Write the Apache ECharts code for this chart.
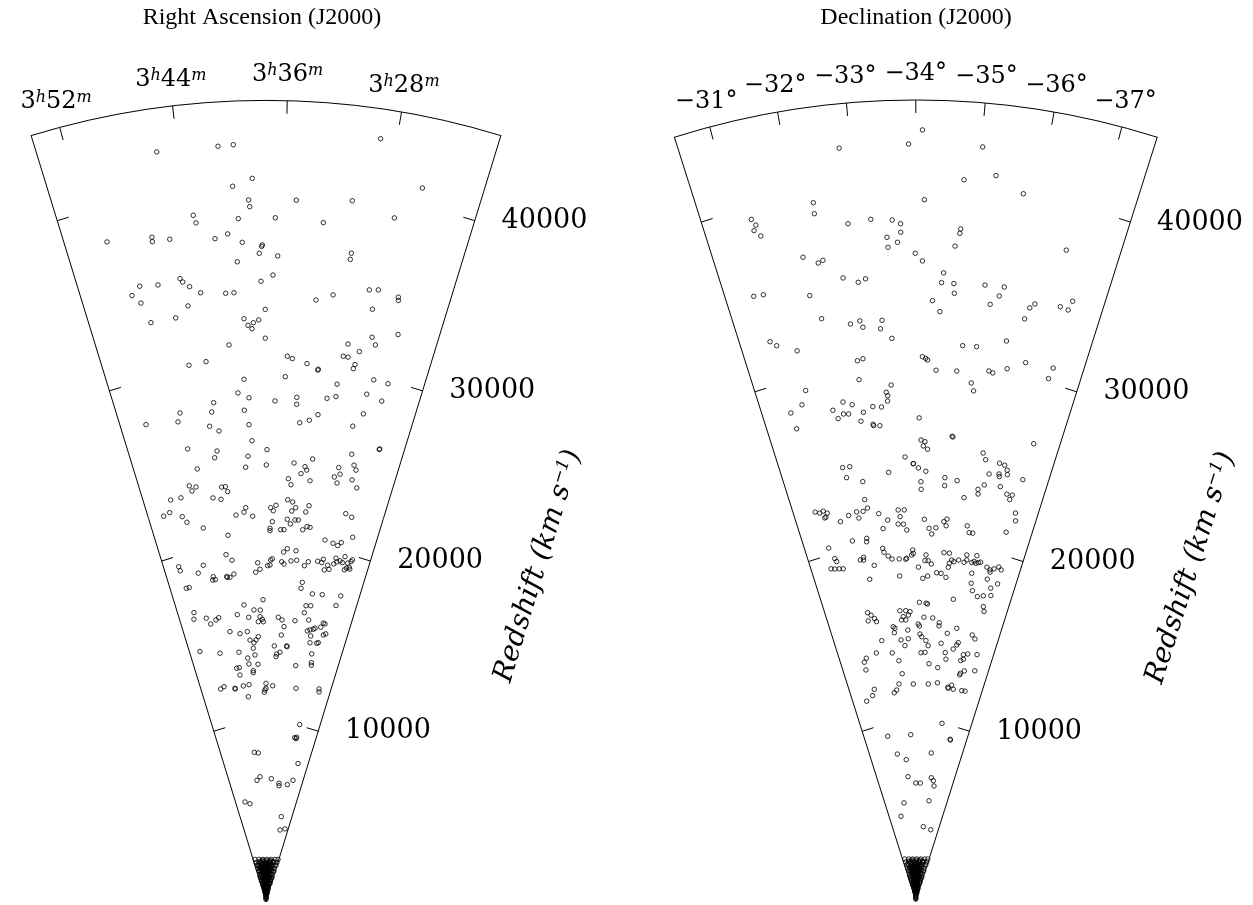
<!DOCTYPE html>
<html>
<head>
<meta charset="utf-8">
<script src="https://cdn.jsdelivr.net/npm/echarts@6/dist/echarts.min.js"></script>
<style>html,body{margin:0;padding:0;background:#fff}#chart{width:1253px;height:905px}</style>
</head>
<body>
<div id="chart"></div>
<script>
// ---------- values ----------
const redshiftMax = 45000;                       // km/s at the outer arc
const redshiftTicks = [10000, 20000, 30000, 40000];
const raRange = [20.89, 54.07];                  // RA, minutes after 3h (right edge .. left edge)
const raTicks = [28, 36, 44, 52];                // 3h28m .. 3h52m
const decRange = [-37.53, -30.47];               // Dec, degrees (right edge .. left edge)
const decTicks = [-37, -36, -35, -34, -33, -32, -31];

// [redshift (km/s), RA minutes after 3h]
const raPoints = [
[42550,45.55],[42510,41.02],[42550,39.89],[40630,38.54],[40220,40.08],[39420,38.86],[39040,38.79],[38760,43.37],[38320,43.21],[38390,39.74],[38110,50.67],[37860,46.96],[37610,46.99],[37590,45.53],[37340,41.76],[37560,40.68],[37050,39.49],[36880,37.79],[36800,37.85],[36410,38.06],[35970,39.98],[34840,37.93],[35320,45.13],[35110,44.93],[34800,44.37],[35280,48.77],[35160,47.15],[34860,49.62],[34340,48.97],[34390,43.44],[34240,41.17],[34240,40.41],[33740,44.74],[33170,46.04],[33150,48.42],[33260,37.55],[32760,39.59],[32380,39.22],[32520,38.70],[32670,38.18],[32180,38.84],[31640,37.55],
[43330,29.16],[41030,25.45],[39430,35.07],[39660,30.65],[38410,36.72],[38270,32.78],[39070,27.13],[36270,36.47],[36730,30.18],[36380,30.20],[35190,36.86],[34840,28.15],[34930,27.35],[33900,32.86],[34280,31.34],[34750,25.46],[34570,25.39],[33800,27.57],[32250,27.12],[32700,24.72],
[31330,41.18],[30430,45.43],[30510,43.65],[29360,39.83],[28610,40.55],[28310,39.36],[28170,43.31],[27860,47.20],[27660,43.64],[27620,39.94],[27620,51.23],[27390,47.60],[26880,44.06],[26560,43.03],[26800,39.47],[25890,39.17],[25800,47.04],[25450,43.52],[25090,43.90],[25030,39.73],[24420,40.09],[25380,37.36],[24520,37.44],[24600,46.27],[23740,47.66],[23610,46.81],[23430,47.43],[23410,43.42],[23410,42.93],[23120,42.68],[23180,50.48],[23170,49.06],[22860,44.76],[22730,43.69],[22390,51.96],[22500,51.02],[22120,49.43],[21760,48.94],[21270,46.76],[21770,41.80],[21900,40.63],[22150,40.35],[21650,39.41],[20680,43.25],[19610,43.88],[19260,43.02],[19430,51.71],[19190,51.62],[19210,47.76],[18830,48.83],[18480,46.45],[18300,46.64],[18300,46.20],[18340,44.11],[18380,44.19],[18320,43.65],[18480,42.93],[19030,38.85],[18500,39.23],[18660,38.49],[18150,51.38],[18150,50.85],[16950,38.03],[16700,41.62],[16390,39.78],[16370,38.57],[16720,51.11],[16360,51.42],[16260,49.07],[16060,47.29],[16160,46.69],[16190,43.04],[15990,40.87],[16000,38.65],[15850,38.21],[15710,38.02],[15720,39.01],[15890,48.45],
[31650,29.34],[31860,26.66],[31330,28.10],[30650,35.30],[30530,34.78],[30300,33.24],[30040,32.02],[29990,32.06],[30930,29.63],[30920,29.14],[30570,28.32],[30330,28.42],[29500,35.43],[29920,26.12],[29880,24.57],[29330,29.87],[28120,36.48],[28370,34.08],[27980,34.04],[28470,30.75],[28630,29.80],[29050,26.55],[28850,24.81],[27930,26.49],[27500,31.55],[27140,32.47],[26960,33.56],[27140,27.41],[26210,23.75],[26170,23.79],[25580,26.92],[24990,31.62],[24680,33.92],[24520,32.49],[24340,32.23],[24110,32.93],[23760,31.67],[23780,34.54],[23450,34.14],[24710,28.22],[24150,28.58],[24360,27.91],[23840,28.11],[25000,26.38],[24750,26.01],[24170,26.25],[23780,25.43],[22600,34.47],[22490,33.76],[22120,36.81],[21950,36.44],[22260,36.07],[22180,33.28],[21980,33.81],[22360,31.44],[21990,31.81],[22240,26.17],[22110,25.24],[21340,36.55],[20960,36.88],[20830,36.88],[21500,34.38],[21250,33.89],[21490,33.25],[21500,32.77],[20900,35.28],[20910,34.78],[20980,31.99],[21180,31.40],[21160,30.95],[21030,24.45],[20570,28.46],[20470,27.17],[20390,26.39],[20600,25.95],[19650,34.66],[19850,34.12],[19770,32.72],
[18860,37.20],[19180,36.71],[19250,36.46],[18900,36.82],[19100,34.90],[18980,34.51],[19180,33.40],[19240,32.47],[18980,31.14],[19230,30.57],[19330,29.07],[19290,28.39],[19490,28.22],[18910,27.77],[19200,27.36],[18990,27.03],[19340,26.44],[19680,26.26],[19480,26.03],[19580,25.54],[19510,25.12],[19870,24.92],[19140,24.54],[19260,24.29],[19550,24.26],[19350,23.90],[19680,23.81],[19790,23.67],[19250,23.71],
[18040,31.16],[17700,31.27],[17470,29.14],[17520,27.36],[17670,24.10],[17080,24.52],[16760,29.98],[16800,29.11],[16360,30.13],[15990,29.08],[15980,35.07],[15840,34.31],[15850,31.75],[15960,26.15],[15940,25.80],[15710,26.50],
[15290,44.88],[15110,42.88],[15190,41.34],[14710,40.89],[14550,40.07],[14700,39.61],[14880,39.10],[14990,34.28],[15470,33.83],[15450,28.52],[15520,27.89],[15590,27.58],[15370,29.03],[15120,28.18],[14740,28.09],[14780,26.67],[14830,26.36],[15310,25.67],[15400,25.23],[14520,51.89],[14180,47.70],[14080,43.50],[14240,40.27],[13860,39.97],[13710,41.66],[13370,41.47],[13330,39.36],[14360,35.67],[14020,34.35],[13760,35.20],[13910,35.07],[14400,32.97],[14360,32.90],[14140,27.30],[13650,27.02],[13510,26.91],[13350,30.49],[13200,44.45],[13220,43.83],[12800,43.86],[12980,40.55],[12870,40.58],[12200,49.20],[12290,48.25],[12100,45.53],[12060,45.50],[12170,43.33],[12210,41.84],[11540,42.28],[12250,37.48],[11880,37.74],[11750,37.93],[11970,37.48],[12120,35.75],[12090,29.68],[12300,23.85],[12140,23.66],[10110,26.97],[9340,27.80],[9380,27.17],[9300,27.31],[8400,41.84],[8350,40.37],[7950,24.75],[7010,40.16],[6820,41.62],[6900,35.07],[6680,31.37],[6540,31.24],[6670,27.41],[6970,25.25],[5710,49.09],[5560,46.53],[4840,27.51],[4090,26.69],[4210,23.17],
[2439,51.77],[2392,46.69],[2365,41.46],[2360,36.16],[2376,30.87],[2413,25.71],[2454,21.96],[2262,51.47],[2209,44.59],[2191,37.48],[2202,31.78],[2237,26.20],[2276,22.15],[2085,51.14],[2042,45.18],[2023,39.03],[2029,32.85],[2060,26.77],[2099,22.37],[1908,50.74],[1868,44.20],[1854,37.48],[1868,30.76],[1908,24.22],[1731,50.26],[1694,43.04],[1686,35.62],[1709,28.27],[1744,22.95],[1554,49.67],[1521,41.61],[1521,33.35],[1554,25.29],[1377,48.93],[1349,39.81],[1359,30.54],[1390,23.82],[1201,47.97],[1180,37.48],[1201,26.99],[1025,46.69],[1017,31.31],[1036,25.29],[850,44.87],[850,30.09],[676,42.11],[683,28.27],[506,37.48],[509,31.31],[337,37.48],[169,37.48],
[1743,39.28],[1633,33.64],[1462,39.62],[1293,35.06],[1129,43.04],[1073,31.63],[899,37.48],[789,33.50],[1589,45.39],[1422,28.63],
[2272,45.78],[2250,40.26],[2253,33.31],[2281,27.82],[2127,49.35],[2085,41.99],[2082,34.47],[2106,28.52],[1940,47.22],[1913,40.76],[1913,34.20],[1940,27.74],[1785,49.86],[1756,44.63],[1750,32.10],[1774,26.82],[1574,39.48],[1577,33.50],[1598,27.63],[1444,50.62],[1415,44.14],[1405,37.48],[1409,33.03],[1267,49.94],[1241,42.53],[1241,32.43],[1267,25.02],[1091,49.05],[1069,40.41],[1091,25.91],[915,47.82],[906,30.54],[901,40.96],[739,45.99],[730,37.48],[739,28.97],[565,43.04],[565,31.92],[393,37.48],[281,37.48],[112,37.48],
[2135,38.95],[2135,36.01],[1967,35.88],[1974,42.25],[1855,39.17],[1857,34.10],[1820,46.12],[1686,39.34],[1694,31.92],[1638,43.23],[1517,37.48],[1533,29.28],[1478,45.99],[1349,35.15],[1297,42.32],[1185,32.19],[1125,40.26],[1011,37.48],[962,44.01],[845,33.77],[788,41.46],[674,37.48],[620,32.43],[509,43.65],[453,30.54],[225,37.48],
[2314,42.90],[2303,37.48],[2314,32.06],[2226,47.39],[2226,27.57],[2147,43.33],[2147,31.63],[2060,48.19],[2022,37.48],[1986,29.57],[1923,44.01],[1910,37.48],[1801,40.96],[1812,30.54],[1742,37.48],[1709,46.69],[1630,35.56],[1582,43.44],[1521,41.61],[1465,33.20],[1405,39.71],[1359,44.42],[1303,30.25],[1236,37.48],[1185,42.77],[1125,34.70],[1073,43.33],[1013,34.39],[955,37.48],[906,44.42],[843,37.48],[732,33.20],[621,42.53],[449,37.48]
];

// [redshift (km/s), Dec degrees]
const decPoints = [
[42510,-32.83],[42530,-33.89],[39650,-32.32],[39030,-32.31],[39390,-31.27],[39020,-31.32],[38740,-31.27],[38360,-31.36],[38240,-32.85],[38380,-33.24],[38280,-33.60],[38060,-33.74],[37580,-33.74],[37320,-33.50],[37020,-33.68],[36760,-33.51],[36390,-33.99],[36720,-32.00],[36260,-32.25],[36370,-32.34],[35240,-32.66],[34910,-32.93],[35070,-33.07],[35170,-30.98],[35120,-31.16],[34530,-32.00],[33140,-32.15],[32620,-32.70],[32740,-32.89],[32370,-32.94],[32680,-33.33],[32210,-33.29],[31640,-33.51],
[43320,-34.10],[42530,-35.02],[40610,-34.77],[41000,-35.27],[40190,-35.74],[39400,-34.14],[37840,-34.77],[37590,-34.76],[36860,-34.69],[35960,-34.12],[37530,-36.62],[35320,-34.51],[34770,-34.48],[34750,-34.71],[34210,-34.73],[34820,-35.29],[34850,-35.65],[34310,-35.58],[33780,-35.43],[33740,-34.32],[33140,-34.47],[34200,-36.27],[33930,-36.19],[33270,-36.13],[34360,-36.75],[34290,-36.91],[34830,-36.95],
[32470,-31.06],[32160,-31.17],[31620,-31.55],[30530,-32.76],[30610,-32.88],[29460,-32.75],[29340,-31.55],[28600,-31.40],[28300,-31.11],[27360,-31.15],[29020,-33.45],[28630,-33.33],[28430,-33.36],[28130,-33.35],[28330,-32.33],[27960,-32.07],[27450,-32.16],[27660,-32.30],[27620,-32.42],[28110,-32.53],[27610,-32.77],[27880,-33.00],[27820,-33.20],[27130,-32.69],[26890,-32.97],[26810,-32.98],[26780,-33.13],[24950,-33.72],[24570,-33.93],[24690,-32.07],[24680,-32.26],[24100,-32.13],[24130,-33.27],[23750,-32.55],[22730,-32.54],[22570,-31.08],[22450,-31.20],[22510,-31.31],[22350,-31.41],[22150,-31.35],[22120,-31.31],[21730,-31.74],[21980,-32.01],[22110,-32.26],[21750,-32.30],[22090,-32.45],[22240,-32.59],[21860,-32.90],[21460,-33.15],[21000,-32.99],[21990,-33.48],[21980,-33.66],[21610,-33.53],[21200,-33.46],[21180,-33.62],[20850,-33.72],[20540,-31.99],[20560,-32.45],[20370,-32.43],[20420,-31.21],[19900,-32.92],[19670,-32.95],[19440,-33.08],[19260,-33.20],[19240,-33.44],[19210,-33.66],[19260,-33.69],[19440,-33.86],[19720,-33.90],[19530,-33.92],[19770,-31.32],[19580,-31.36],[19260,-31.12],[19200,-31.24],[19150,-31.39],[19100,-31.52],[19410,-32.14],[19380,-32.25],[19530,-32.26],[19000,-32.58],[18260,-32.36],[18280,-33.43],[16420,-32.09],[16250,-32.21],[16030,-32.33],[15850,-32.39],[15960,-32.06],[16330,-33.37],[16320,-33.60],[16260,-33.77],[15990,-33.49],[15810,-33.42],[15800,-33.59],[16070,-33.70],
[31310,-34.97],[31330,-35.26],[31870,-35.85],[30580,-34.14],[30490,-34.21],[30400,-34.25],[29840,-34.44],[29860,-34.89],[30060,-35.58],[29980,-35.67],[30340,-35.96],[30870,-36.32],[30920,-36.91],[30280,-36.87],[29270,-35.23],[28840,-35.30],[27140,-34.08],[26190,-34.90],[26150,-34.92],[26530,-36.91],[25900,-34.13],[25810,-34.23],[25570,-34.19],[25390,-34.30],[25450,-35.72],[25100,-35.81],[24570,-33.94],[24330,-34.07],[24150,-34.27],[23560,-34.14],[23130,-34.15],[23840,-34.79],[23390,-34.80],[23730,-35.13],[24340,-35.96],[23690,-35.88],[23390,-35.73],[23130,-35.75],[25040,-36.18],[24990,-36.32],[24740,-36.41],[24440,-36.22],[24300,-36.24],[24500,-36.44],[23760,-36.32],[24420,-36.87],[23420,-36.54],[23440,-36.69],[23160,-36.65],[22820,-35.37],[21450,-34.26],[20950,-34.41],[20640,-34.50],[21000,-34.62],[21370,-34.85],[21530,-34.94],[21150,-34.93],[21270,-35.57],[20910,-35.66],[20910,-35.77],[22500,-36.90],[22080,-36.96],[21330,-36.77],
[19450,-34.34],[19130,-34.31],[19130,-34.42],[18950,-34.53],[18760,-34.09],[19630,-34.93],[19630,-35.11],[19260,-35.21],[19070,-35.14],[18840,-35.12],[19180,-35.29],[19310,-35.44],[19220,-35.63],[19650,-35.69],[19370,-35.71],[19270,-35.89],[19360,-35.96],[19270,-36.03],[19700,-36.02],[19330,-36.11],[19380,-36.18],[19170,-36.42],[19060,-36.54],[19170,-36.67],[19330,-36.81],[19210,-36.91],[18940,-36.56],
[18480,-34.73],[18460,-34.89],[18260,-35.07],[18130,-34.25],[18270,-34.42],[18680,-35.95],[18520,-36.52],[18400,-36.91],[18120,-35.99],[17720,-36.08],[17450,-36.30],[17560,-36.51],[17670,-36.78],[18070,-36.71],[17080,-35.43],[16780,-34.14],[16740,-34.40],[16700,-34.45],[16970,-36.60],[16710,-36.67],[15950,-34.33],[15930,-34.69],[15690,-34.97],[15560,-34.10],
[15460,-33.05],[15370,-33.12],[15120,-33.08],[15450,-34.15],[15510,-34.97],[15490,-35.72],[15230,-33.66],[14750,-32.50],[14690,-33.35],[14740,-33.67],[14360,-33.51],[15000,-34.18],[14850,-34.26],[14640,-34.45],[14360,-34.56],[14550,-35.13],[15140,-35.35],[15280,-36.41],[15090,-36.56],[14310,-35.70],[14570,-35.83],[14710,-35.88],[14110,-32.18],[14000,-32.91],[13920,-31.68],[13720,-31.55],[13280,-31.55],[13530,-33.19],[13950,-34.24],[13980,-34.43],[14050,-35.36],[13690,-35.43],[14090,-36.20],[14180,-36.39],[14260,-36.81],[13740,-36.13],[13840,-36.24],[13350,-34.64],[13170,-35.08],[12790,-33.31],[12940,-36.21],[13040,-36.23],[13210,-36.40],[13350,-36.89],[12120,-31.77],[11790,-31.61],[11560,-31.22],[11760,-32.81],[11900,-32.96],[12230,-33.11],[12190,-33.87],[12210,-34.66],[12320,-35.14],[12140,-35.71],[12290,-35.90],[12080,-36.02],[12090,-35.75],[12100,-36.48],[12110,-36.66],[10090,-35.69],[9390,-32.05],[9350,-33.65],[9290,-36.41],[9250,-36.44],[8320,-32.56],[7960,-33.22],[8360,-35.20],[7000,-33.28],[6630,-34.00],[6630,-34.44],[6980,-35.44],[6830,-35.67],[6540,-35.81],[5550,-32.62],[5680,-35.51],[4830,-32.00],[4200,-35.16],[4090,-36.38],
[2439,-31.04],[2392,-32.09],[2365,-33.18],[2360,-34.27],[2376,-35.37],[2413,-36.43],[2454,-37.21],[2262,-31.10],[2209,-32.53],[2191,-34.00],[2202,-35.18],[2237,-36.33],[2276,-37.17],[2085,-31.17],[2042,-32.41],[2023,-33.68],[2029,-34.96],[2060,-36.22],[2099,-37.13],[1908,-31.25],[1868,-32.61],[1854,-34.00],[1868,-35.39],[1908,-36.75],[1731,-31.36],[1694,-32.85],[1686,-34.38],[1709,-35.91],[1744,-37.01],[1554,-31.48],[1521,-33.15],[1521,-34.85],[1554,-36.52],[1377,-31.63],[1349,-33.52],[1359,-35.44],[1390,-36.83],[1201,-31.83],[1180,-34.00],[1201,-36.17],[1025,-32.09],[1017,-35.28],[1036,-36.52],[850,-32.47],[850,-35.53],[676,-33.04],[683,-35.91],[506,-34.00],[509,-35.28],[337,-34.00],[169,-34.00],
[1743,-33.63],[1633,-34.80],[1462,-33.56],[1293,-34.50],[1129,-32.85],[1073,-35.21],[899,-34.00],[789,-34.82],[1589,-32.36],[1422,-35.83],
[2272,-32.28],[2250,-33.42],[2253,-34.86],[2281,-36.00],[2127,-31.54],[2085,-33.07],[2082,-34.62],[2106,-35.85],[1940,-31.98],[1913,-33.32],[1913,-34.68],[1940,-36.02],[1785,-31.44],[1756,-32.52],[1750,-35.11],[1774,-36.21],[1574,-33.59],[1577,-34.82],[1598,-36.04],[1444,-31.28],[1415,-32.62],[1405,-34.00],[1409,-34.92],[1267,-31.42],[1241,-32.95],[1241,-35.05],[1267,-36.58],[1091,-31.61],[1069,-33.39],[1091,-36.39],[915,-31.86],[906,-35.44],[901,-33.28],[739,-32.24],[730,-34.00],[739,-35.76],[565,-32.85],[565,-35.15],[393,-34.00],[281,-34.00],[112,-34.00],
[2135,-33.70],[2135,-34.30],[1967,-34.33],[1974,-33.01],[1855,-33.65],[1857,-34.70],[1820,-32.21],[1686,-33.62],[1694,-35.15],[1638,-32.81],[1517,-34.00],[1533,-35.70],[1478,-32.24],[1349,-34.48],[1297,-33.00],[1185,-35.10],[1125,-33.42],[1011,-34.00],[962,-32.65],[845,-34.77],[788,-33.18],[674,-34.00],[620,-35.05],[509,-32.72],[453,-35.44],[225,-34.00],
[2314,-32.88],[2303,-34.00],[2314,-35.12],[2226,-31.95],[2226,-36.05],[2147,-32.79],[2147,-35.21],[2060,-31.78],[2022,-34.00],[1986,-35.64],[1923,-32.65],[1910,-34.00],[1801,-33.28],[1812,-35.44],[1742,-34.00],[1709,-32.09],[1630,-34.40],[1582,-32.77],[1521,-33.15],[1465,-34.89],[1405,-33.54],[1359,-32.56],[1303,-35.50],[1236,-34.00],[1185,-32.90],[1125,-34.58],[1073,-32.79],[1013,-34.64],[955,-34.00],[906,-32.56],[843,-34.00],[732,-34.89],[621,-32.95],[449,-34.00]
];

// ---------- layout / style ----------
const FONT = '"DejaVu Serif", serif';
const TITLE_FONT = '"Liberation Serif", serif';
const BLACK = '#000';
const R = 801;
const raCenter = [266, 901.4];
const decCenter = [915.8, 901];
const raAngles = [72.95, 107.05];
const decAngles = [72.46, 107.54];

const line = {color: BLACK, width: 1};

function mainAngleAxis(polarIndex, range, angles, ticks, formatter, rich) {
  return {
    polarIndex, type: 'value', min: range[0], max: range[1],
    startAngle: angles[0], endAngle: angles[1], clockwise: false,
    axisLine: {show: true, lineStyle: line},
    axisTick: {show: true, inside: true, length: 13, customValues: ticks, lineStyle: line},
    axisLabel: {show: true, margin: 14, customValues: ticks, formatter, color: BLACK,
                fontFamily: FONT, fontSize: 24, rich},
    splitLine: {show: false}, splitArea: {show: false}
  };
}
function blankAngleAxis(polarIndex, angles) {
  return {
    polarIndex, type: 'value', min: 0, max: 1, startAngle: angles[1], endAngle: angles[0], clockwise: true,
    axisLine: {show: false}, axisTick: {show: false}, axisLabel: {show: false},
    splitLine: {show: false}, splitArea: {show: false}
  };
}
function mainRadiusAxis(polarIndex) {
  return {
    polarIndex, type: 'value', min: 0, max: redshiftMax,
    axisLine: {show: true, lineStyle: line},
    axisTick: {show: true, inside: false, length: 12, customValues: redshiftTicks, lineStyle: line},
    axisLabel: {show: true, customValues: redshiftTicks, margin: -28, align: 'left', verticalAlign: 'bottom',
                lineHeight: 16, color: BLACK, fontFamily: FONT, fontSize: 27,
                formatter: v => String(v)},
    name: '{a|Redshift (km s}{b|−1}{a|)}',
    nameLocation: 'middle', nameGap: 148,
    nameTextStyle: {rich: {
      a: {fontFamily: FONT, fontStyle: 'italic', fontSize: 28, color: BLACK},
      b: {fontFamily: FONT, fontStyle: 'italic', fontSize: 17, color: BLACK, verticalAlign: 'top'}
    }},
    splitLine: {show: false}, splitArea: {show: false}
  };
}
function edgeRadiusAxis(polarIndex) {
  return {
    polarIndex, type: 'value', min: 0, max: redshiftMax,
    axisLine: {show: true, lineStyle: line},
    axisTick: {show: true, inside: false, length: -12, customValues: redshiftTicks, lineStyle: line},
    axisLabel: {show: false},
    splitLine: {show: false}, splitArea: {show: false}
  };
}

const raRich = {
  n: {fontFamily: FONT, fontSize: 24, color: BLACK},
  s: {fontFamily: FONT, fontSize: 16, fontStyle: 'italic', color: BLACK, verticalAlign: 'top'}
};
const decRich = {
  n: {fontFamily: FONT, fontSize: 24, color: BLACK}
};

const symbolStyle = {color: 'rgba(0,0,0,0)', borderColor: BLACK, borderWidth: 1};

const option = {
  animation: false,
  backgroundColor: '#fff',
  polar: [
    {center: raCenter, radius: R},
    {center: raCenter, radius: R},
    {center: decCenter, radius: R},
    {center: decCenter, radius: R}
  ],
  angleAxis: [
    mainAngleAxis(0, raRange, raAngles, raTicks, v => `{n|3}{s|h}{n|${v}}{s|m}`, raRich),
    blankAngleAxis(1, raAngles),
    mainAngleAxis(2, decRange, decAngles, decTicks, v => `{n|−${Math.abs(v)}°}`, decRich),
    blankAngleAxis(3, decAngles)
  ],
  radiusAxis: [mainRadiusAxis(0), edgeRadiusAxis(1), mainRadiusAxis(2), edgeRadiusAxis(3)],
  series: [
    {type: 'scatter', coordinateSystem: 'polar', polarIndex: 0, data: raPoints,
     symbol: 'circle', symbolSize: 4.5, itemStyle: symbolStyle, silent: true},
    {type: 'scatter', coordinateSystem: 'polar', polarIndex: 2, data: decPoints,
     symbol: 'circle', symbolSize: 4.5, itemStyle: symbolStyle, silent: true}
  ],
  graphic: [
    {type: 'text', x: 262, y: 6, silent: true,
     style: {text: 'Right Ascension (J2000)', fontFamily: TITLE_FONT, fontSize: 24, fill: BLACK, align: 'center', verticalAlign: 'top'}},
    {type: 'text', x: 916, y: 6, silent: true,
     style: {text: 'Declination (J2000)', fontFamily: TITLE_FONT, fontSize: 24, fill: BLACK, align: 'center', verticalAlign: 'top'}}
  ]
};

const chart = echarts.init(document.getElementById('chart'), null, {renderer: 'canvas'});
chart.setOption(option);
</script>
</body>
</html>
